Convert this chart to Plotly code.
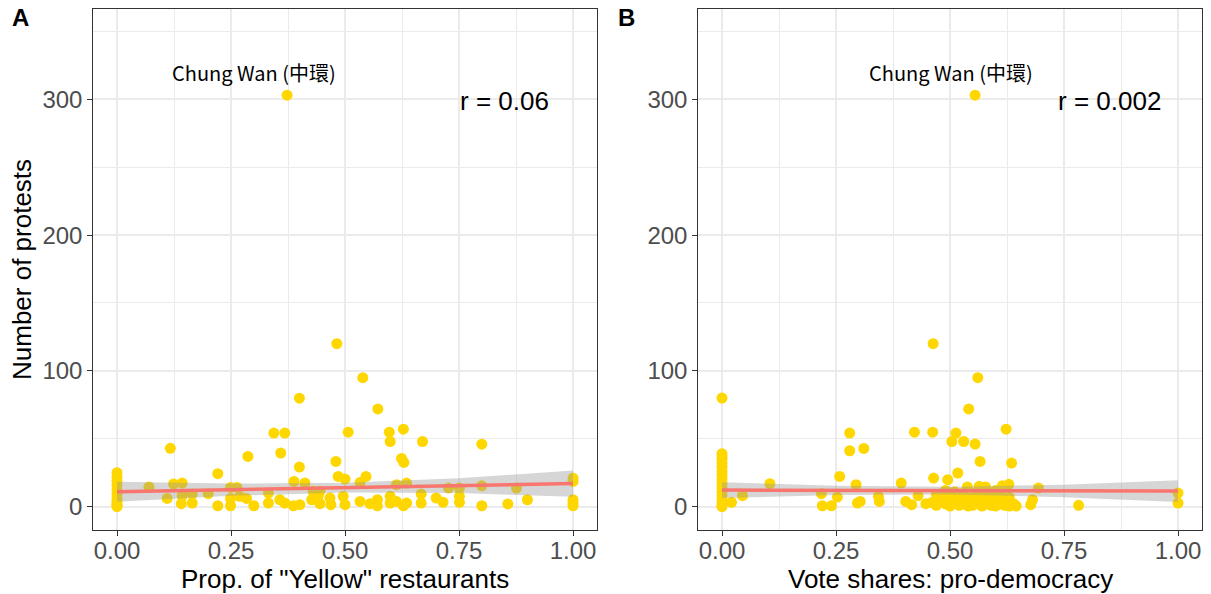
import plotly.graph_objects as go

# ---------------- data ----------------
# Panel A: proportion of "Yellow" restaurants vs number of protests
yellow_x = [0, 0, 0, 0, 0, 0, 0, 0, 0, 0, 0,
            0.07, 0.11, 0.117, 0.124, 0.143, 0.143, 0.141, 0.165, 0.165, 0.2, 0.221, 0.221,
            0.249, 0.263, 0.249, 0.249, 0.269, 0.284, 0.287, 0.3,
            0.332, 0.332, 0.344, 0.368, 0.359, 0.357, 0.368, 0.387, 0.401, 0.373, 0.388, 0.412,
            0.4, 0.4, 0.427, 0.43, 0.445, 0.441, 0.445, 0.467, 0.469, 0.48, 0.482, 0.485, 0.5,
            0.496, 0.5, 0.507, 0.533, 0.533, 0.539, 0.546, 0.555, 0.571, 0.571, 0.572, 0.597,
            0.599, 0.599, 0.599, 0.613, 0.613, 0.624, 0.628, 0.628, 0.629, 0.635, 0.635, 0.667,
            0.667, 0.67, 0.70, 0.715, 0.727, 0.751, 0.751, 0.751, 0.8, 0.8, 0.8, 0.857, 0.876,
            0.9, 1, 1, 1, 1, 1]
yellow_y = [25, 22, 19, 16, 12, 9, 6, 4, 2, 1, 0,
            14.5, 6.1, 43, 16.7, 17.4, 8.1, 2.2, 9.3, 2.7, 9.6, 24.3, 0.7,
            14.2, 14.2, 6.1, 0.7, 7.6, 6.1, 37, 0.7,
            10, 2.7, 54.2, 54.2, 39.5, 5.1, 2.7, 0.7, 1.5, 303, 18.6, 17.4,
            79.9, 29.2, 5.1, 11.3, 11.3, 7.6, 2.2, 6.4, 1.5, 33.3, 120, 22.3, 20.3,
            7.6, 1.5, 54.9, 17.9, 3.9, 95, 22.3, 2.2, 5.1, 0.7, 72, 54.9,
            48, 7.6, 2.7, 16.2, 3.9, 35.5, 57.1, 0.7, 32.6, 17.4, 2.7, 9.3,
            2.7, 48, 6.4, 3.2, 13.7, 13.7, 7.6, 3.2, 46, 15.4, 0.7, 2, 13.7,
            5.1, 21, 18.6, 5.1, 2.7, 0.7]

# Panel B: vote share of pro-democracy camp vs number of protests
vote_x = [0, 0, 0, 0, 0, 0, 0, 0, 0, 0, 0, 0, 0, 0, 0, 0, 0,
          0.021, 0.045, 0.105, 0.218, 0.22, 0.24, 0.253, 0.258, 0.28, 0.28, 0.294, 0.297,
          0.303, 0.311, 0.343, 0.345, 0.393, 0.403, 0.416, 0.422, 0.43, 0.447, 0.462, 0.463,
          0.464, 0.495, 0.504, 0.513, 0.517, 0.53, 0.541, 0.555, 0.555, 0.561, 0.566, 0.623,
          0.635, 0.538, 0.564, 0.578, 0.615, 0.629, 0.677, 0.681, 0.694, 0.782, 1, 1,
          0.46, 0.47, 0.48, 0.49, 0.5, 0.5, 0.51, 0.52, 0.52, 0.53, 0.53, 0.54, 0.54, 0.55,
          0.55, 0.56, 0.56, 0.57, 0.57, 0.58, 0.58, 0.59, 0.59, 0.6, 0.6, 0.61, 0.61, 0.62,
          0.62, 0.63, 0.63, 0.64, 0.645, 0.47, 0.49, 0.51, 0.6]
vote_y = [80, 39, 37, 35, 32, 29, 26, 23, 20, 17, 14, 11, 8, 5, 3, 1, 0,
          3.2, 8.1, 16.9, 9.6, 0.7, 0.7, 7.1, 22.3, 54.2, 41.2, 16.2, 2.7,
          3.9, 42.9, 7.6, 3.9, 17.4, 3.9, 1.5, 54.9, 8.1, 2.2, 54.9, 120,
          21.1, 19.9, 48, 54.2, 24.8, 48, 72, 46.1, 303, 95, 33.3, 57.1,
          32.1, 14.5, 15, 14.5, 15.5, 16.5, 1.5, 5.1, 13.7, 1, 10, 2.7,
          3, 1, 5, 2, 0.5, 8, 3, 1, 6, 10, 2, 0.5, 4, 7,
          1, 3, 11, 0.5, 5, 2, 8, 1, 4, 0.5, 6, 2, 10, 1,
          4, 0.5, 7, 2, 0.5, 9, 12, 11, 12]

# Linear fit and 95% band
fit_x = [0, 0.25, 0.5, 0.75, 1.0]
yellow_fit = [11.0, 12.5, 14.0, 15.5, 17.0]
yellow_lo = [3.7, 8.0, 10.4, 10.0, 7.4]
yellow_hi = [18.4, 17.0, 17.6, 21.0, 26.6]
vote_fit = [12.2, 12.0, 11.8, 11.6, 11.5]
vote_lo = [6.4, 8.6, 9.0, 7.0, 3.5]
vote_hi = [18.0, 15.4, 14.6, 16.2, 19.5]

x_ticks = [0, 0.25, 0.5, 0.75, 1.0]
x_tick_labels = ["0.00", "0.25", "0.50", "0.75", "1.00"]
y_ticks = [0, 100, 200, 300]
y_tick_labels = ["0", "100", "200", "300"]
r_labels = ["r = 0.06", "r = 0.002"]
outlier_label = "Chung Wan (中環)"
x_titles = ['Prop. of "Yellow" restaurants', "Vote shares: pro-democracy"]
y_title = "Number of protests"
panel_tags = ["A", "B"]

# ---------------- figure ----------------
W, H = 1211, 594
POINT = "#FFD700"
LINE = "#F8766D"
BAND = "rgba(153,153,153,0.4)"
GRID = "#ebebeb"
BORDER = "#333333"
FONT = "Liberation Sans, Arial, sans-serif"

fig = go.Figure()

panels = [
    ("x", "y", yellow_x, yellow_y, yellow_fit, yellow_lo, yellow_hi),
    ("x2", "y2", vote_x, vote_y, vote_fit, vote_lo, vote_hi),
]
for xa, ya, px, py, fit, lo, hi in panels:
    fig.add_trace(go.Scatter(x=px, y=py, mode="markers", xaxis=xa, yaxis=ya,
                             marker=dict(color=POINT, size=11, line=dict(width=0)),
                             showlegend=False, hoverinfo="skip"))
    fig.add_trace(go.Scatter(x=fit_x + fit_x[::-1], y=hi + lo[::-1], xaxis=xa, yaxis=ya,
                             mode="lines", fill="toself", fillcolor=BAND,
                             line=dict(width=0, color="rgba(0,0,0,0)"),
                             showlegend=False, hoverinfo="skip"))
    fig.add_trace(go.Scatter(x=fit_x, y=fit, mode="lines", xaxis=xa, yaxis=ya,
                             line=dict(color=LINE, width=3.5),
                             showlegend=False, hoverinfo="skip"))

xr = [-0.052, 1.0515]
yr = [-16.8, 366.5]
ydom = [1 - 529.5 / H, 1 - 9 / H]
xdomA = [93.3 / W, 596.5 / W]
xdomB = [698.3 / W, 1201.5 / W]

axis_common = dict(showline=True, mirror=True, linecolor=BORDER, linewidth=1.1,
                   ticks="outside", ticklen=5, tickcolor=BORDER, tickwidth=1.1,
                   showgrid=True, gridcolor=GRID, gridwidth=1.5, zeroline=False,
                   tickfont=dict(family=FONT, size=24, color="#4d4d4d"))

xminor = dict(tickvals=[-0.125 + 0.25 * i for i in range(6)], showgrid=True,
              gridcolor=GRID, gridwidth=0.8, ticklen=0)
yminor = dict(tickvals=[-50, 50, 150, 250, 350], showgrid=True,
              gridcolor=GRID, gridwidth=0.8, ticklen=0)

fig.update_layout(
    width=W, height=H, margin=dict(l=0, r=0, t=0, b=0),
    paper_bgcolor="white", plot_bgcolor="white",
    xaxis=dict(domain=xdomA, range=xr, tickvals=x_ticks, ticktext=x_tick_labels,
               anchor="y", minor=xminor, ticklabelstandoff=-5, **axis_common),
    yaxis=dict(domain=ydom, range=yr, tickvals=y_ticks, ticktext=y_tick_labels,
               anchor="x", minor=yminor, **axis_common),
    xaxis2=dict(domain=xdomB, range=xr, tickvals=x_ticks, ticktext=x_tick_labels,
                anchor="y2", minor=xminor, ticklabelstandoff=-5, **axis_common),
    yaxis2=dict(domain=ydom, range=yr, tickvals=y_ticks, ticktext=y_tick_labels,
                anchor="x2", minor=yminor, **axis_common),
)

ann = []
label_x = [0.30, 0.503]
for i, (xa, ya) in enumerate([("x", "y"), ("x2", "y2")]):
    ann.append(dict(x=label_x[i], y=320, xref=xa, yref=ya, text=outlier_label,
                    showarrow=False, xanchor="center", yanchor="middle",
                    font=dict(family="Noto Sans CJK TC, Noto Sans", size=20, color="black")))
    ann.append(dict(x=0.85, y=299, xref=xa, yref=ya, text=r_labels[i],
                    showarrow=False, xanchor="center", yanchor="middle",
                    font=dict(family=FONT, size=26, color="black")))

ann.append(dict(x=345 / W, y=1 - 579 / H, xref="paper", yref="paper", text=x_titles[0],
                showarrow=False, xanchor="center", yanchor="middle",
                font=dict(family=FONT, size=26, color="black")))
ann.append(dict(x=950 / W, y=1 - 579 / H, xref="paper", yref="paper", text=x_titles[1],
                showarrow=False, xanchor="center", yanchor="middle",
                font=dict(family=FONT, size=26, color="black")))
ann.append(dict(x=22 / W, y=1 - 270 / H, xref="paper", yref="paper", text=y_title,
                showarrow=False, textangle=-90, xanchor="center", yanchor="middle",
                font=dict(family=FONT, size=26, color="black")))
ann.append(dict(x=20 / W, y=1 - 18 / H, xref="paper", yref="paper", text="<b>%s</b>" % panel_tags[0],
                showarrow=False, xanchor="center", yanchor="middle",
                font=dict(family=FONT, size=24, color="black")))
ann.append(dict(x=626 / W, y=1 - 18 / H, xref="paper", yref="paper", text="<b>%s</b>" % panel_tags[1],
                showarrow=False, xanchor="center", yanchor="middle",
                font=dict(family=FONT, size=24, color="black")))
fig.update_layout(annotations=ann)

fig.write_html("out.html", config={"displayModeBar": False},
               post_script="document.body.style.margin='0';")
